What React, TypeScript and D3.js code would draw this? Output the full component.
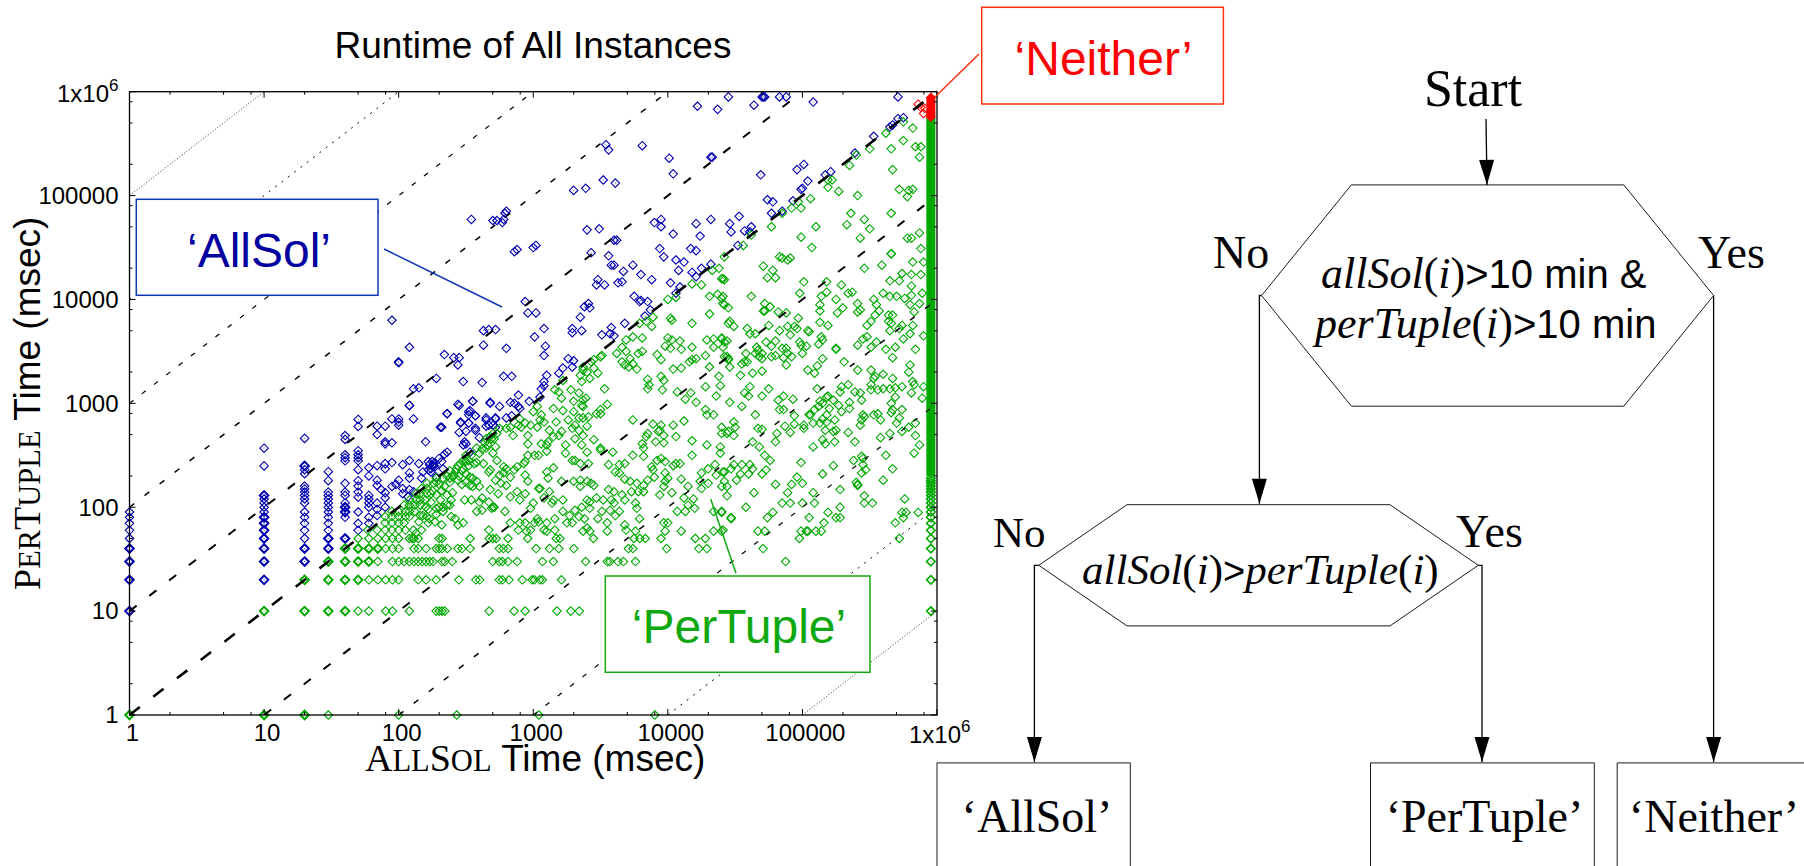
import React from 'react';
import * as d3 from 'd3';

// Runtimes in msec. Low runtimes sit on a 10 ms grid, so they are listed as plain values.
// The scattered points are given as [log10 allSol, log10 perTuple].
const majorTicks = [1, 10, 100, 1000, 10000, 100000, 1000000];
const minorFactors = [2, 5, 8];
const diagonalDecades = [5, 4, 3, 2, 1, 0, -1, -2, -3, -4, -5];

const blueColumns: [number, number[]][] = [
  [1, [10, 20, 30, 40, 50, 60, 70, 80, 90]],
  [10, [20, 30, 40, 50, 60, 70, 80, 90, 100, 110, 120, 130, 250, 370]],
  [20, [30, 40, 50, 60, 70, 80, 90, 110, 120, 130, 140, 150, 160, 210, 230, 250, 460]],
  [30, [40, 50, 60, 70, 80, 90, 100, 110, 120, 130, 140, 180, 220]],
  [40, [50, 80, 90, 100, 110, 130, 140, 170, 280, 300, 320, 450, 490]],
  [50, [60, 70, 90, 125, 140, 160, 180, 230, 280, 300, 320, 350, 600, 700]],
  [60, [70, 80, 100, 110, 120, 130, 200, 240]],
];

const greenRows: [number, number[]][] = [
  [1, [1, 10, 20, 30, 100, 270, 1100, 8000]],
  [10, [10, 20, 30, 40, 50, 60, 80, 90, 120, 190, 200, 210, 220, 470, 720, 870, 1500, 1900, 2200]],
  [20, [20, 30, 40, 50, 60, 70, 80, 90, 100, 140, 160, 190, 280, 375, 400, 560, 590, 660, 830, 980, 1020, 1120, 1170, 1620]],
  [30, [30, 40, 50, 60, 70, 90, 100, 110, 120, 130, 140, 150, 160, 170, 180, 210, 220, 250, 500, 560, 590, 650, 760, 1170, 1410, 2450, 3550, 3700, 4260, 4680, 5750, 75000]],
  [40, [40, 50, 60, 70, 80, 90, 100, 130, 140, 160, 190, 200, 210, 230, 275, 295, 340, 560, 600, 650, 1050, 1320, 1550, 2000, 5100, 5500, 9800, 17000, 19500, 51000]],
  [50, [50, 60, 70, 80, 90, 100, 120, 130, 140, 200, 210, 340, 470, 500, 530, 650, 910, 1480, 1580, 2800, 5600, 6200, 6800, 8900, 16000, 19000, 95000, 525000]],
];

// low values that many instances share, so they print heavier
const stackedBlue: [number, number][] = [
  [1, 10], [1, 20], [1, 30], [1, 40], [10, 20], [10, 30], [10, 40], [10, 50], [10, 60], [10, 70], [10, 80], [10, 130],
  [20, 30], [20, 40], [20, 250], [30, 40], [30, 50], [40, 50], [40, 90], [40, 100], [180, 250],
];
const stackedGreen: [number, number][] = [
  [1, 1], [10, 1], [20, 1], [10, 10], [20, 10], [30, 10], [40, 10], [20, 20], [30, 20], [40, 20], [50, 20],
  [30, 30], [40, 30], [50, 30], [60, 30], [40, 40], [50, 40], [60, 40], [70, 40],
];

const bluePoints: [number, number][] = [
  [1.84,2.78],[1.90,2.78],[1.84,2.70],[1.95,2.85],[2.00,2.85],[2.00,2.82],[2.00,2.79],[2.11,2.85],[1.90,2.63],[1.90,2.61],
  [1.95,2.62],[2.08,2.98],[2.20,2.63],[2.08,2.45],[2.31,2.77],[2.36,2.90],[2.45,2.98],[2.55,3.02],[2.68,3.01],[2.75,2.97],
  [2.46,2.82],[2.52,2.92],[2.57,2.88],[2.52,2.81],[2.45,2.72],[2.50,2.73],[2.57,2.74],[2.65,2.86],[2.72,2.86],[2.65,2.78],
  [2.72,2.77],[2.49,2.63],[2.50,2.61],[2.48,2.60],[2.36,2.53],[2.34,2.51],[2.30,2.47],[2.60,2.67],[2.53,2.53],[1.84,2.40],
  [1.90,2.42],[1.90,2.37],[1.95,2.43],[2.03,2.41],[2.15,2.42],[2.08,2.33],[2.08,2.28],[2.00,2.26],[1.98,2.22],[1.95,2.20],
  [1.84,2.26],[1.84,2.21],[1.87,2.17],[1.90,2.14],[1.90,2.09],[1.84,2.04],[1.90,2.00],[1.84,1.98],[1.84,1.92],[2.03,2.18],
  [2.03,2.13],[2.08,2.17],[2.07,2.10],[2.11,2.15],[2.18,2.34],[2.17,2.28],[2.22,2.44],[2.26,2.42],[2.24,2.37],[2.27,2.39],
  [2.23,2.41],[2.25,2.44],[2.24,2.34],[2.22,2.36],[2.32,2.44],[2.33,2.37],[2.28,2.29],
  [2.86,4.46],[3.43,4.45],[3.56,4.42],[3.58,4.33],[3.60,4.33],[3.67,4.27],[3.74,4.33],[3.80,4.24],[3.88,4.19],[3.48,4.19],
  [3.47,4.14],[3.53,4.14],[3.63,4.16],[3.66,4.17],[2.94,3.98],[2.96,3.87],[3.02,3.87],[3.41,3.96],[3.38,3.93],[3.42,3.92],
  [3.35,3.83],[3.08,3.72],[3.01,3.64],[3.09,3.55],[3.08,3.46],[2.80,3.53],[3.29,3.72],[3.29,3.68],[3.36,3.70],[3.51,3.66],
  [3.58,3.73],[3.57,3.67],[3.60,3.65],[3.68,3.77],[3.75,4.03],[3.79,3.98],[3.80,3.99],[3.85,3.98],[3.87,3.90],[3.83,3.84],
  [4.02,4.16],[4.09,4.12],[4.06,4.06],[3.97,4.41],[4.06,4.38],[4.12,4.36],[4.08,4.28],[4.18,4.26],[4.21,4.22],[4.25,4.30],
  [4.32,4.34],[3.26,3.43],[3.30,3.41],[3.22,3.34],[3.19,3.29],[3.29,3.35],[3.10,3.27],[3.08,3.17],[3.06,3.14],[3.05,3.06],
  [2.78,3.26],[2.84,3.26],[2.89,3.08],[2.97,3.02],[2.83,3.01],[2.86,3.00],[2.89,2.97],[2.90,2.95],[2.80,2.86],[2.84,2.88],
  [3.08,3.21],[1.95,3.80],[2.08,3.54],[2.00,3.40],[2.00,3.39],[2.34,3.47],[2.41,3.44],[2.45,3.44],[2.44,3.37],[2.28,3.24],
  [2.11,3.14],[2.15,3.15],[2.08,2.98],[2.48,3.21],[2.62,3.20],[2.63,3.70],[2.67,3.71],[2.72,3.71],[2.63,3.56],[2.44,2.99],
  [2.55,3.02],[2.68,3.00],[2.36,2.90],[2.53,2.93],[2.52,2.89],[2.57,2.88],[2.46,2.81],[2.52,2.81],[2.65,2.84],[2.72,2.85],
  [2.67,2.79],[2.70,2.79],[2.57,2.76],[2.32,2.77],
  [4.45,5.95],[4.70,5.95],[4.71,5.95],[4.72,5.95],[4.83,5.95],[4.88,5.95],[5.71,5.95],[4.22,5.86],[4.37,5.83],[4.64,5.87],
  [5.08,5.90],[3.54,5.49],[3.56,5.44],[3.81,5.48],[4.01,5.36],[4.33,5.37],[4.32,5.37],[4.04,5.21],[4.69,5.20],[4.96,5.25],
  [5.01,5.30],[5.53,5.57],[5.39,5.41],[5.65,5.66],[5.67,5.68],[5.71,5.74],[5.75,5.75],[3.30,5.05],[3.39,5.07],[3.52,5.15],
  [3.61,5.12],[5.04,5.14],[4.99,5.06],[5.00,5.07],[5.17,5.20],[5.21,5.23],[4.74,4.96],[4.78,4.94],[4.93,4.95],[4.77,4.83],
  [4.85,4.85],[2.79,4.83],[2.78,4.77],[2.77,4.74],[2.80,4.85],[3.90,4.74],[3.95,4.77],[3.95,4.70],[4.21,4.73],[4.32,4.77],
  [4.46,4.73],[4.53,4.80],[4.47,4.65],[4.57,4.66],[4.62,4.70],[4.61,4.65],[4.04,4.63],[4.24,4.61],[3.40,4.67],[3.49,4.68],
  [3.60,4.57],[3.62,4.57],[3.02,4.52],[3.00,4.50],[2.88,4.48],[3.94,4.49],[4.17,4.49],[4.21,4.47],[4.52,4.52],[2.54,4.77],
  [2.70,4.76],[2.73,4.76],
];

const greenPoints: [number, number][] = [
  // just under the diagonal
  [1.77,1.78],[1.84,1.78],[1.90,1.78],[1.95,1.78],[2.00,1.78],[2.11,1.78],[2.17,1.78],[1.90,1.85],[1.95,1.85],[2.00,1.85],
  [2.04,1.85],[1.90,1.91],[1.95,1.91],[2.00,1.91],[2.05,1.91],[2.08,1.91],[1.95,1.96],[2.00,1.96],[2.05,1.96],[2.08,1.96],
  [2.12,1.96],[2.04,2.02],[2.08,2.02],[2.12,2.02],[2.16,2.02],[2.08,2.07],[2.13,2.07],[2.16,2.07],[2.20,2.07],[2.13,2.13],
  [2.16,2.13],[2.21,2.13],[2.24,2.13],[2.17,2.18],[2.21,2.18],[2.21,2.23],[2.26,2.23],[2.28,2.28],[2.33,2.28],[2.38,2.28],
  [2.36,2.30],[2.41,2.30],[2.45,2.30],[2.43,2.37],[2.48,2.37],[2.48,2.45],[2.52,2.45],[2.50,2.50],[2.54,2.50],[2.58,2.57],
  [2.65,2.57],[2.65,2.66],[2.69,2.66],[2.70,2.71],[2.73,2.71],[2.75,2.76],[2.80,2.76],
  [2.38,2.35],[2.42,2.34],[2.40,2.30],[2.44,2.40],[2.46,2.42],[2.50,2.44],[2.52,2.40],[2.47,2.35],[2.50,2.32],[2.44,2.26],
  [2.47,2.22],[2.50,2.24],[2.56,2.42],[2.60,2.52],[2.62,2.56],[2.64,2.62],[2.66,2.60],[2.68,2.68],[2.71,2.66],[2.72,2.58],
  [2.70,2.52],[2.28,2.24],[2.30,2.22],[2.34,2.20],[2.32,2.16],[2.36,2.12],[2.40,2.14],[2.38,2.24],[2.25,2.16],[2.28,2.12],
  [2.20,2.00],[2.16,1.92],[2.22,1.98],[2.24,2.05],[2.30,2.00],[2.05,1.78],[2.18,1.92],[2.22,1.85],[2.10,1.70],
  // lower left
  [2.31,2.07],[2.33,2.00],[2.28,1.99],[2.36,2.02],[2.38,2.02],[2.33,1.96],[2.28,1.93],[2.21,1.91],[2.23,1.89],[2.27,1.86],
  [2.32,1.83],[2.39,1.91],[2.42,1.89],[2.48,1.85],[2.44,1.83],[2.39,2.07],[2.49,2.07],[2.54,2.07],[2.60,2.05],[2.67,2.05],
  [2.62,2.09],[2.74,2.13],[2.83,2.10],[2.55,2.20],[2.53,2.29],[2.55,2.28],[2.58,2.25],[2.67,2.34],[2.73,2.45],[2.68,2.36],
  [2.80,2.37],[2.75,2.31],[2.72,2.26],[2.76,2.23],[2.63,2.42],[2.58,2.43],[2.53,2.21],[2.60,2.20],[2.68,2.17],[2.69,1.99],
  [2.70,2.00],[2.71,2.00],[2.58,1.96],[2.62,1.97],[2.67,1.78],[2.15,1.86],[2.13,1.75],
  // middle, upper part
  [4.00,4.00],[4.06,4.02],[4.02,3.82],[4.03,3.80],[4.18,3.77],[4.31,3.86],[4.31,4.03],[4.37,4.05],[4.41,4.03],[4.42,3.95],
  [4.45,3.77],[4.18,4.15],[4.25,4.14],[4.33,4.28],[4.38,4.30],[4.41,4.20],[3.89,3.83],[3.79,3.77],[3.84,3.79],[3.88,3.74],
  [3.69,3.61],[3.74,3.64],[3.81,3.63],[3.62,3.48],[3.66,3.54],[3.69,3.50],[3.66,3.40],[3.68,3.37],[3.72,3.43],[3.74,3.38],
  [3.78,3.48],[3.81,3.50],[3.71,3.35],[3.77,3.33],[3.92,3.47],[3.95,3.42],[3.98,3.55],[4.00,3.63],[4.03,3.61],[4.02,3.53],
  [4.09,3.60],[4.10,3.52],[4.18,3.54],[4.29,3.61],[4.34,3.54],[4.34,3.62],[4.40,3.63],[4.42,3.59],[4.41,3.54],[4.44,3.45],
  [4.45,3.42],[4.28,3.46],[4.21,3.43],[4.16,3.40],[4.18,3.42],[4.31,3.35],[4.38,3.26],[4.04,3.33],[4.10,3.34],[3.85,3.23],
  [3.95,3.26],[3.97,3.22],[3.86,3.18],[3.85,3.14],[3.96,3.13],[4.07,3.11],[4.13,3.04],[4.17,3.10],[4.21,3.01],[4.28,2.94],
  [4.28,3.16],[4.36,3.07],[4.39,3.17],[4.34,2.89],[4.29,2.89],[3.74,2.84],[4.04,2.79],[4.12,2.83],[3.89,2.80],[3.95,2.79],
  [3.94,2.74],[3.97,2.69],[3.93,2.73],[3.85,2.71],[3.84,2.68],[3.91,2.63],[3.97,2.62],[4.06,2.68],[4.18,2.64],[4.29,2.60],
  [4.40,2.71],[4.45,2.73],[3.81,2.61],[3.82,2.57],[4.39,2.58],[3.53,3.14],[3.55,2.99],[3.50,2.94],[3.47,2.90],[3.50,2.90],
  [3.39,3.05],[3.37,3.03],[3.36,2.98],[3.37,2.97],[3.34,3.10],[3.28,3.13],[3.21,3.05],[3.30,3.02],[3.15,2.95],[3.22,2.93],
  [3.30,2.92],[3.19,3.11],[3.16,3.13],[3.26,2.84],[3.29,2.76],[3.31,2.79],[3.34,2.86],[3.37,2.86],[3.41,2.87],[3.40,2.78],
  [3.34,2.74],[3.31,2.66],[3.21,2.73],[3.19,2.69],[3.17,2.82],[3.12,2.74],[3.11,2.63],[3.15,2.68],[3.10,2.60],[3.06,2.61],
  [3.24,2.60],[3.37,2.69],[3.45,2.65],[3.50,2.57],[3.36,2.60],[3.03,2.97],[3.00,2.92],[3.06,2.89],[3.05,2.84],[3.08,2.82],
  [2.90,2.85],[2.94,2.81],[2.98,2.79],[2.91,2.77],[2.89,2.79],[2.83,2.77],[3.03,2.77],[2.96,2.69],[2.85,2.69],[2.96,2.61],
  [3.22,3.22],[3.35,3.27],[3.37,3.35],[3.40,3.30],[3.43,3.40],[3.45,3.42],[3.51,3.46],[3.48,3.29],[3.45,3.34],[3.42,3.24],
  [3.36,3.21],[3.50,3.45],[3.37,3.32],
  // right, upper part
  [4.83,4.41],[4.85,4.40],[4.91,4.40],[4.89,4.38],[4.71,4.32],[4.78,4.28],[4.74,4.21],[4.80,4.21],[5.01,4.17],[5.18,4.17],
  [5.29,4.14],[5.46,4.30],[5.59,4.33],[5.66,4.44],[5.65,4.18],[5.72,4.18],[5.74,4.25],[5.81,4.24],[5.88,4.24],[5.90,4.36],
  [5.81,4.13],[5.82,4.36],[5.18,4.07],[4.98,4.06],[5.14,4.03],[5.13,3.95],[5.13,3.89],[5.25,4.00],[5.34,4.06],[5.37,4.07],
  [5.26,3.87],[5.30,3.92],[5.41,3.96],[5.43,3.90],[5.41,3.88],[5.53,4.00],[5.55,3.95],[5.54,3.85],[5.57,3.89],[5.60,4.06],
  [5.65,4.03],[5.70,4.03],[5.76,4.01],[5.81,4.04],[5.89,4.06],[5.80,3.95],[5.87,3.96],[5.83,3.88],[5.64,3.85],[5.67,3.85],
  [5.64,3.79],[5.65,3.70],[5.66,3.77],[5.74,3.75],[5.72,3.72],[5.82,3.75],[5.80,3.67],[5.90,3.65],[5.75,3.62],[5.51,3.79],
  [5.48,3.75],[5.45,3.62],[5.48,3.64],[5.41,3.56],[5.51,3.54],[5.55,3.59],[5.62,3.52],[5.69,3.54],[5.67,3.44],[5.84,3.52],
  [5.80,3.37],[5.79,3.30],[5.41,3.32],[5.31,3.40],[5.51,3.32],[5.53,3.24],[5.60,3.28],[5.51,3.18],[5.51,3.13],[5.54,3.26],
  [5.67,3.24],[5.82,3.21],[5.83,3.18],[5.81,3.10],[5.89,3.05],[5.90,3.16],[5.74,3.16],[5.69,3.15],[5.60,3.14],[5.65,3.14],
  [5.56,3.13],[5.69,3.06],[5.66,3.00],[5.67,2.94],[5.74,2.94],[5.66,2.91],[5.44,3.03],[5.39,3.11],[5.43,3.10],[5.34,3.18],
  [5.29,3.16],[5.28,3.11],[5.11,3.14],[5.19,3.07],[5.18,3.06],[5.23,3.03],[5.27,2.98],[5.29,2.92],[5.35,3.01],[5.35,2.95],
  [5.13,3.02],[5.15,3.00],[5.12,2.97],[5.20,2.95],[5.09,2.94],[5.06,2.89],[5.18,2.89],[5.15,2.85],[5.18,2.82],[5.24,2.84],
  [5.08,2.81],[5.13,2.81],[5.25,2.74],[5.23,2.73],[5.17,2.74],[5.34,2.72],[5.39,2.63],[5.43,2.79],[5.44,2.84],[5.46,2.87],
  [5.45,2.89],[5.53,2.89],[5.56,2.90],[5.58,2.84],[5.72,2.86],[5.65,2.71],[5.70,2.81],[5.79,2.77],[5.84,2.81],[5.84,2.69],
  [5.87,2.60],[5.74,2.73],[5.58,2.67],[5.15,2.65],[5.17,2.61],[5.24,2.63],[5.08,2.58],[4.91,2.72],[4.81,2.71],[4.80,2.63],
  [4.70,2.75],[4.67,2.76],[4.65,2.89],[4.55,2.97],[4.46,3.01],[4.57,3.10],[4.61,3.16],[4.60,3.07],[4.70,3.07],[4.75,3.14],
  [4.86,3.07],[4.82,3.03],[4.93,3.04],[4.83,2.94],[4.86,2.94],[4.94,2.88],[4.94,2.80],[5.01,2.79],[5.05,2.89],[5.01,2.76],
  [4.87,2.78],[4.49,2.82],[4.50,2.77],[4.40,2.77],[4.44,2.71],[4.49,2.69],[4.68,2.58],[4.63,2.63],[4.46,3.79],[4.49,3.74],
  [4.59,3.72],[4.61,3.67],[4.65,3.67],[4.75,3.75],[4.82,3.88],[4.88,3.87],[4.97,3.82],[4.83,3.70],[4.89,3.74],[4.94,3.74],
  [4.96,3.72],[4.91,3.66],[5.05,3.69],[5.04,3.70],[5.13,3.78],[5.19,3.75],[5.14,3.64],[5.15,3.61],[5.12,3.57],[4.98,3.59],
  [4.99,3.56],[5.03,3.55],[5.00,3.48],[4.80,3.60],[4.85,3.53],[4.77,3.55],[4.73,3.59],[4.66,3.54],[4.67,3.51],[4.65,3.48],
  [4.68,3.45],[4.70,3.48],[4.70,3.43],[4.77,3.45],[4.80,3.46],[4.88,3.53],[4.89,3.48],[4.86,3.44],[4.92,3.45],[4.88,3.37],
  [4.58,3.48],[4.59,3.40],[4.55,3.38],[4.57,3.40],[4.46,3.35],[4.45,3.43],[4.42,3.45],[4.44,3.60],[4.40,3.62],[4.54,3.27],
  [4.63,3.29],[4.70,3.31],[5.25,3.53],[5.25,3.52],[5.15,3.43],[5.11,3.36],[5.04,3.32],[5.09,3.29],[4.62,4.03],[4.72,3.96],
  [4.76,3.93],[4.72,3.89],[4.71,3.89],[4.40,4.01],[4.41,3.96],[4.45,3.92],[4.42,4.19],[4.40,4.20],
  // middle, lower part
  [2.94,2.44],[2.93,2.42],[2.96,2.50],[3.01,2.50],[3.04,2.50],[3.10,2.54],[3.24,2.52],[3.31,2.45],[3.29,2.45],[3.40,2.53],
  [3.41,2.42],[3.35,2.42],[3.50,2.55],[3.59,2.53],[3.74,2.50],[3.82,2.49],[3.95,2.47],[3.98,2.44],[3.92,2.45],[4.04,2.40],
  [4.06,2.42],[4.09,2.42],[4.18,2.50],[4.39,2.52],[3.56,2.41],[3.68,2.42],[3.64,2.41],[3.61,2.34],[3.64,2.33],[3.68,2.27],
  [3.72,2.25],[3.77,2.23],[3.82,2.21],[3.85,2.26],[3.88,2.39],[3.89,2.36],[3.90,2.29],[3.98,2.33],[3.98,2.25],[4.00,2.28],
  [3.97,2.20],[3.94,2.12],[4.10,2.27],[4.15,2.20],[4.25,2.33],[4.30,2.37],[4.35,2.41],[4.36,2.31],[4.42,2.34],[4.25,2.18],
  [4.30,2.23],[4.03,2.14],[4.12,2.09],[4.19,2.08],[4.15,2.02],[4.20,1.99],[4.07,1.96],[4.13,1.96],[4.44,2.20],[4.24,2.25],
  [2.78,2.39],[2.78,2.33],[2.83,2.29],[2.86,2.36],[2.88,2.39],[2.94,2.31],[2.96,2.25],[2.80,2.21],[2.88,2.15],[2.90,2.07],
  [2.79,1.96],[2.94,2.13],[3.05,2.18],[3.12,2.15],[3.10,2.34],[3.11,2.28],[3.15,2.38],[3.21,2.25],[3.30,2.25],[3.35,2.26],
  [3.40,2.25],[3.43,2.23],[3.45,2.21],[3.35,2.20],[3.22,2.07],[3.15,2.07],[3.08,2.09],[3.04,2.18],[3.00,2.04],[2.98,1.99],
  [3.14,2.04],[3.16,1.89],[3.22,1.96],[3.27,1.92],[3.34,1.91],[3.29,1.85],[3.25,1.85],[3.40,2.07],[3.42,2.05],[3.47,2.09],
  [3.52,2.07],[3.56,2.17],[3.60,2.15],[3.66,2.12],[3.68,2.07],[3.73,2.15],[3.78,2.15],[3.82,2.15],[3.76,2.04],[3.77,1.99],
  [3.60,2.04],[3.58,2.07],[3.57,1.97],[3.61,1.92],[3.64,1.96],[3.68,1.83],[3.51,1.96],[3.48,1.89],[3.42,1.99],[3.38,1.89],
  [3.36,2.00],[3.31,1.97],[3.40,1.80],[3.42,1.77],[3.37,1.77],[3.55,1.85],[3.55,1.77],[3.03,1.89],[3.04,1.86],[2.83,1.85],
  [2.89,1.78],[2.95,1.77],[2.98,1.78],[3.08,1.78],[3.10,1.77],[3.16,1.78],[2.90,1.85],[2.94,1.85],[3.01,1.85],[3.10,1.85],
  [3.69,1.78],[3.76,1.77],[3.79,1.89],[3.97,1.85],[4.00,1.85],[3.98,1.77],[4.10,1.77],[4.34,1.77],[4.41,1.78],[4.34,1.96],
  [4.40,1.96],
  // right, lower part
  [4.99,2.43],[5.23,2.40],[5.38,2.45],[5.44,2.49],[5.45,2.47],[5.44,2.33],[5.47,2.36],[5.45,2.41],[5.62,2.50],[5.67,2.37],
  [5.60,2.26],[5.83,2.52],[5.40,2.24],[5.41,2.21],[5.41,2.22],[5.15,2.32],[4.96,2.29],[5.00,2.23],[4.92,2.22],[4.80,2.22],
  [4.64,2.14],[4.89,2.14],[4.44,2.11],[4.42,2.25],[4.51,2.26],[4.54,2.32],[4.60,2.32],[4.70,2.32],[4.73,2.36],[4.76,2.45],
  [4.72,2.50],[4.49,2.41],[4.47,2.37],[4.55,2.41],[4.61,2.41],[4.63,2.37],[4.41,2.34],[4.40,2.20],[5.08,2.14],[5.28,2.17],
  [5.46,2.11],[5.46,2.04],[5.52,2.04],[5.76,2.08],[5.09,2.04],[5.00,2.04],[4.85,2.04],[4.91,2.04],[4.58,2.00],[4.40,1.95],
  [4.47,1.90],[4.47,1.89],[4.78,1.95],[4.74,1.90],[5.19,1.95],[5.28,2.00],[5.05,1.90],[5.25,1.90],[5.28,1.90],[5.16,1.85],
  [5.74,1.95],[5.77,1.95],[5.86,1.95],[5.75,1.90],[5.69,1.85],[4.67,1.77],[4.72,1.77],[4.99,1.77],[5.03,1.77],[5.04,1.77],
  [5.10,1.77],[5.14,1.77],[4.40,1.77],
  // top right
  [5.40,5.39],[5.50,5.45],[5.62,5.60],[5.66,5.45],[5.75,5.71],[5.75,5.53],[5.82,5.65],[5.84,5.47],[5.88,5.47],[5.87,5.37],
  [5.35,5.29],[5.67,5.25],[5.19,5.15],[5.22,5.15],[5.19,5.08],[5.27,5.04],[5.41,5.00],[5.72,5.06],[5.79,5.05],[5.82,5.06],
  [5.78,4.99],[5.06,4.97],[4.97,4.94],[4.99,4.88],[4.92,4.88],[4.77,4.70],[4.85,4.83],[5.36,4.83],[5.66,4.83],[5.46,4.77],
  [5.33,4.72],[5.50,4.68],[5.43,4.59],[5.10,4.70],[4.99,4.60],[5.07,4.50],[5.78,4.59],[5.81,4.59],[5.87,4.64],[5.88,4.49],
  [4.56,4.52],[4.62,4.62],[4.42,4.41],[5.66,4.44],
];

// instances that hit the time limit on allSol: everything piles up at 900000 msec
const timeoutAllSol = 900000;
const timeoutGreenTimes = [10, 20, 30, 40, 50, 60, 70, 80, 90, 100, 110, 120, 130, 140, 150, 160, 170, 180, 190];
const timeoutGreenStack = [200, 570000];
const timeoutRedStack = [570000, 880000];
const redPoints: [number, number][] = [[5.86, 5.88], [5.91, 5.84], [5.90, 5.79], [5.88, 5.85]];

const x = d3.scaleLog().domain([1, 1000000]).range([129.5, 937]);
const y = d3.scaleLog().domain([1, 1000000]).range([715, 91.7]);

const sans = "'Liberation Sans', Arial, sans-serif";
const serif = "'Liberation Serif', 'Times New Roman', serif";
const BLUE = '#0000b0';
const GREEN = '#00a800';
const RED = '#ff0000';

const diamond = d3.symbol().type(d3.symbolDiamond2).size(46)() as string;

// dash pattern and weight of each y = x * 10^k guide line, by |k|
const guideStyles = [
  { width: 2.6, dash: '13 17' },
  { width: 2, dash: '9 16' },
  { width: 1.5, dash: '6 13' },
  { width: 1.2, dash: '5 10.5' },
  { width: 1, dash: '2 6' },
  { width: 0.8, dash: '1 2' },
];

const fromLog = ([a, b]: [number, number]): [number, number] => [10 ** a, 10 ** b];

const Marks = ({ points, color, weight = 1.1, fill = 'none' }: {
  points: [number, number][]; color: string; weight?: number; fill?: string;
}) => (
  <g fill={fill} stroke={color} strokeWidth={weight}>
    {points.map(([a, b], i) => (
      <g key={i} transform={`translate(${x(a)},${y(b)})`}>
        <path d={diamond} />
        <rect x={-0.5} y={-0.5} width={1} height={1} fill={color} stroke="none" opacity={0.6} />
      </g>
    ))}
  </g>
);

const Callout = ({ box, line, label, stroke, fill, textX, textY }: {
  box: number[]; line: number[]; label: string; stroke: string; fill: string; textX: number; textY: number;
}) => (
  <g>
    <line x1={line[0]} y1={line[1]} x2={line[2]} y2={line[3]} stroke={stroke} strokeWidth={1.5} />
    <rect x={box[0]} y={box[1]} width={box[2]} height={box[3]} fill="#fff" stroke={stroke} strokeWidth={1.5} />
    <text x={textX} y={textY} fontFamily={sans} fontSize={48} fill={fill} textAnchor="middle">{label}</text>
  </g>
);

const ScatterPlot = () => {
  const minorTicks = majorTicks.slice(0, -1).flatMap((d) => minorFactors.map((f) => d * f));
  const [x0, x1] = x.range();
  const [y0, y1] = y.range();
  const bluePts = [
    ...blueColumns.flatMap(([a, ys]) => ys.map((b) => [a, b] as [number, number])),
    ...bluePoints.map(fromLog),
  ];
  const greenPts = [
    ...greenRows.flatMap(([b, xs]) => xs.map((a) => [a, b] as [number, number])),
    ...greenPoints.map(fromLog),
  ];
  const timeoutPts = timeoutGreenTimes.map((b) => [timeoutAllSol, b] as [number, number]);
  const stackLine = d3.line<number>().x(() => x(timeoutAllSol)).y((d) => y(d));

  return (
    <g>
      <defs>
        <clipPath id="plot-area">
          <rect x={x0} y={y1} width={x1 - x0} height={y0 - y1} />
        </clipPath>
      </defs>
      <text x={533} y={58} fontFamily={sans} fontSize={37} textAnchor="middle">Runtime of All Instances</text>

      <Marks points={bluePts} color={BLUE} />
      <Marks points={stackedBlue} color={BLUE} weight={2} />
      <Marks points={greenPts} color={GREEN} />
      <Marks points={stackedGreen} color={GREEN} weight={2} />
      <Marks points={timeoutPts} color={GREEN} weight={1.6} />
      <path d={stackLine(timeoutGreenStack) as string} stroke={GREEN} strokeWidth={9} fill="none" />
      <Marks points={redPoints.map(fromLog)} color={RED} />
      <path d={stackLine(timeoutRedStack) as string} stroke={RED} strokeWidth={9} fill="none" />
      <Marks points={timeoutRedStack.map((b) => [timeoutAllSol, b] as [number, number])} color={RED} fill={RED} />

      <g clipPath="url(#plot-area)" fill="none" stroke="#000">
        {diagonalDecades.map((k) => {
          const style = guideStyles[Math.abs(k)];
          const a = k >= 0 ? 1 : 10 ** -k;
          const b = k >= 0 ? 10 ** (6 - k) : 1000000;
          return (
            <line key={k} x1={x(a)} y1={y(a * 10 ** k)} x2={x(b)} y2={y(b * 10 ** k)}
              strokeWidth={style.width} strokeDasharray={style.dash} />
          );
        })}
      </g>

      <rect x={x0} y={y1} width={x1 - x0} height={y0 - y1} fill="none" stroke="#000" strokeWidth={1.3} />
      <g stroke="#000" strokeWidth={1}>
        {majorTicks.map((d) => (
          <g key={d}>
            <line x1={x(d)} x2={x(d)} y1={y0} y2={y0 - 6} />
            <line x1={x(d)} x2={x(d)} y1={y1} y2={y1 + 6} />
            <line x1={x0} x2={x0 + 6} y1={y(d)} y2={y(d)} />
            <line x1={x1} x2={x1 - 6} y1={y(d)} y2={y(d)} />
          </g>
        ))}
        {minorTicks.map((d) => (
          <g key={d}>
            <line x1={x(d)} x2={x(d)} y1={y0} y2={y0 - 3} />
            <line x1={x(d)} x2={x(d)} y1={y1} y2={y1 + 3} />
            <line x1={x0} x2={x0 + 3} y1={y(d)} y2={y(d)} />
            <line x1={x1} x2={x1 - 3} y1={y(d)} y2={y(d)} />
          </g>
        ))}
      </g>

      <g fontFamily={sans} fontSize={24}>
        {majorTicks.slice(0, -1).map((d) => (
          <g key={d}>
            <text x={x(d) + 3} y={741} textAnchor="middle">{d}</text>
            <text x={118.5} y={y(d) + 8.3} textAnchor="end">{d}</text>
          </g>
        ))}
        <text x={57} y={101.7}>1x10<tspan dy={-11} fontSize={17}>6</tspan></text>
        <text x={909} y={743}>1x10<tspan dy={-11} fontSize={17}>6</tspan></text>
      </g>

      <text x={365} y={771} fontFamily={serif} fontSize={38}>
        A<tspan fontSize={30.5}>LL</tspan>S<tspan fontSize={30.5}>OL</tspan>
        <tspan fontFamily={sans} fontSize={37}> Time (msec)</tspan>
      </text>
      <text transform="translate(40,590) rotate(-90)" fontFamily={serif} fontSize={38}>
        P<tspan fontSize={30.5}>ER</tspan>T<tspan fontSize={30.5}>UPLE</tspan>
        <tspan fontFamily={sans} fontSize={37}> Time (msec)</tspan>
      </text>

      <Callout box={[136.3, 199.3, 241.7, 96]} line={[384, 249, 502, 307]} label="‘AllSol’" stroke="#0f36b4" fill="#0000a0" textX={259} textY={266.7} />
      <Callout box={[605.3, 576, 264.7, 96.3]} line={[710.7, 499, 736, 573.3]} label="‘PerTuple’" stroke="#10a810" fill="#10a810" textX={739} textY={643.3} />
      <Callout box={[981.7, 7.3, 241.7, 96.7]} line={[979, 54, 935, 97]} label="‘Neither’" stroke="#ff3010" fill="#ff0000" textX={1103.5} textY={74.5} />
    </g>
  );
};

const Arrow = ({ points }: { points: [number, number][] }) => {
  const end = points[points.length - 1];
  const prev = points[points.length - 2];
  const angle = (Math.atan2(end[1] - prev[1], end[0] - prev[0]) * 180) / Math.PI;
  return (
    <g>
      <path d={d3.line()(points) as string} fill="none" stroke="#000" strokeWidth={1.3} />
      <path d="M0,0L-25,-7.5L-25,7.5Z" fill="#000" transform={`translate(${end[0]},${end[1]}) rotate(${angle})`} />
    </g>
  );
};

const Ital = ({ children, size = 44 }: { children: React.ReactNode; size?: number }) => (
  <tspan fontFamily={serif} fontStyle="italic" fontSize={size}>{children}</tspan>
);
const Rom = ({ children, size = 44 }: { children: React.ReactNode; size?: number }) => (
  <tspan fontFamily={serif} fontSize={size}>{children}</tspan>
);

const Flowchart = () => (
  <g>
    <g fontFamily={serif} fontSize={46}>
      <text x={1473} y={106} fontSize={52} textAnchor="middle">Start</text>
      <text x={1213} y={268}>No</text>
      <text x={1698} y={268}>Yes</text>
      <text x={993} y={547} fontSize={43}>No</text>
      <text x={1456} y={547}>Yes</text>
    </g>

    <Arrow points={[[1486, 119], [1487, 184.9]]} />
    <Arrow points={[[1261.6, 295.5], [1259.4, 295.5], [1259.4, 503.8]]} />
    <Arrow points={[[1713.6, 295.5], [1713.6, 762]]} />
    <Arrow points={[[1038.8, 565.3], [1034.4, 565.3], [1034.4, 762]]} />
    <Arrow points={[[1478.3, 565.3], [1482, 565.3], [1482, 762]]} />

    <path d="M1351.4,184.9L1623.8,184.9L1713.6,295.5L1623.8,406.2L1351.4,406.2L1261.6,295.5Z" fill="none" stroke="#000" strokeWidth={0.9} />
    <path d="M1127,504.7L1390,504.7L1478.3,565.3L1390,625.9L1127,625.9L1038.8,565.3Z" fill="none" stroke="#000" strokeWidth={0.9} />

    <text x={1321} y={287.6} fontFamily={sans} fontSize={40}>
      <Ital>allSol</Ital><Rom>(</Rom><Ital>i</Ital><Rom>)</Rom>&gt;10 min &amp;
    </text>
    <text x={1315} y={337.7} fontFamily={sans} fontSize={40}>
      <Ital>perTuple</Ital><Rom>(</Rom><Ital>i</Ital><Rom>)</Rom>&gt;10 min
    </text>
    <text x={1082} y={583.7} fontFamily={sans} fontSize={38}>
      <Ital size={43}>allSol</Ital><Rom size={43}>(</Rom><Ital size={43}>i</Ital><Rom size={43}>)</Rom>&gt;<Ital size={43}>perTuple</Ital><Rom size={43}>(</Rom><Ital size={43}>i</Ital><Rom size={43}>)</Rom>
    </text>

    <g fill="none" stroke="#000" strokeWidth={0.9}>
      <path d="M937,866L937,762.9L1130.3,762.9L1130.3,866" />
      <path d="M1370.5,866L1370.5,762.9L1594.3,762.9L1594.3,866" />
      <path d="M1617.2,866L1617.2,762.9L1804,762.9" />
    </g>
    <g fontFamily={serif} fontSize={46} textAnchor="middle">
      <text x={1037} y={832}>‘AllSol’</text>
      <text x={1484.5} y={832}>‘PerTuple’</text>
      <text x={1714} y={832}>‘Neither’</text>
    </g>
  </g>
);

export default function App() {
  return (
    <svg width={1804} height={866} viewBox="0 0 1804 866"
      style={{ position: 'absolute', left: 0, top: 0, background: '#fff' }}>
      <ScatterPlot />
      <Flowchart />
    </svg>
  );
}
